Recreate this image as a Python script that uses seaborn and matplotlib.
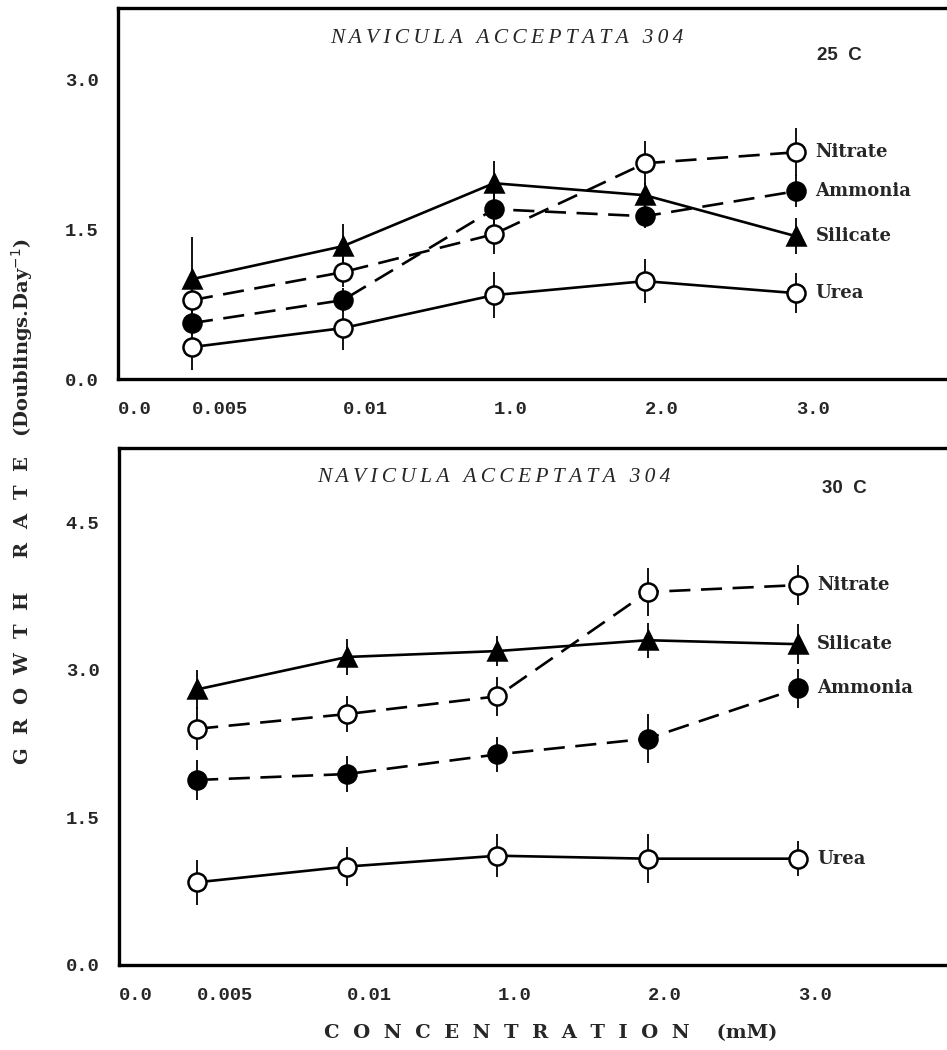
import matplotlib
matplotlib.use("Agg")
import matplotlib.pyplot as plt
import matplotlib.transforms as mtransforms
import seaborn as sns
import pandas as pd

# --- data ---
conc_labels = ["0.005", "0.01", "1.0", "2.0", "3.0"]
series_names = ["Nitrate", "Ammonia", "Silicate", "Urea"]

# 25 C panel
nitrate_25 = [0.79, 1.07, 1.45, 2.16, 2.27]
ammonia_25 = [0.56, 0.79, 1.70, 1.63, 1.88]
silicate_25 = [1.00, 1.33, 1.96, 1.84, 1.43]
urea_25 = [0.32, 0.51, 0.84, 0.98, 0.86]
nitrate_25_err = [0.15, 0.15, 0.20, 0.22, 0.24]
ammonia_25_err = [0.12, 0.12, 0.15, 0.12, 0.16]
silicate_25_err = [0.42, 0.22, 0.22, 0.12, 0.18]
urea_25_err = [0.23, 0.22, 0.23, 0.22, 0.20]

# 30 C panel
nitrate_30 = [2.40, 2.55, 2.73, 3.79, 3.86]
ammonia_30 = [1.88, 1.94, 2.14, 2.30, 2.81]
silicate_30 = [2.80, 3.13, 3.19, 3.30, 3.26]
urea_30 = [0.84, 1.00, 1.11, 1.08, 1.08]
nitrate_30_err = [0.22, 0.18, 0.20, 0.24, 0.20]
ammonia_30_err = [0.20, 0.18, 0.18, 0.25, 0.20]
silicate_30_err = [0.20, 0.18, 0.15, 0.18, 0.20]
urea_30_err = [0.23, 0.20, 0.22, 0.25, 0.18]

sns.set_style("white")
plt.rcParams["font.family"] = ["DejaVu Sans"]

styles = {
    "Nitrate": dict(marker="o", mfc="white", dashed=True),
    "Ammonia": dict(marker="o", mfc="black", dashed=True),
    "Silicate": dict(marker="^", mfc="black", dashed=False),
    "Urea": dict(marker="o", mfc="white", dashed=False),
}

tick_font = dict(family="Liberation Mono", weight="bold", size=13.5)
label_font = dict(family="DejaVu Serif", weight="bold", size=13)
title = "\u2009".join("NAVICULA ACCEPTATA 304")


def draw_panel(ax, data, errs, temp, ymax, yticks, xleft, title_xy, temp_xy):
    pos = list(range(len(conc_labels)))
    for name in series_names:
        st = styles[name]
        df = pd.DataFrame({"x": pos, "y": data[name]})
        ax.errorbar(pos, data[name], yerr=errs[name], fmt="none",
                    ecolor="black", elinewidth=1.3, capsize=0, zorder=2)
        sns.lineplot(data=df, x="x", y="y", ax=ax, color="black",
                     linewidth=1.9, marker=st["marker"], markersize=13,
                     markerfacecolor=st["mfc"], markeredgecolor="black",
                     markeredgewidth=1.8, zorder=3)
        if st["dashed"]:
            ax.lines[-1].set_dashes([8, 4])
        ax.text(4.13, data[name][-1], name, ha="left", va="center",
                fontdict=label_font)

    ax.set_xlim(xleft, 5.03)
    ax.set_ylim(0, ymax)
    ax.set_xticks([xleft] + pos)
    ax.set_xticklabels(["0.0"] + conc_labels, fontdict=tick_font, ha="left")
    shift = mtransforms.ScaledTranslation(-6 / 100, 0, ax.figure.dpi_scale_trans)
    for lab in ax.get_xticklabels():
        lab.set_transform(lab.get_transform() + shift)
    ax.xaxis.get_major_ticks()[0].tick1line.set_visible(False)
    ax.set_yticks(yticks)
    ax.set_yticklabels(["%.1f" % v for v in yticks], fontdict=tick_font)
    ax.tick_params(axis="x", direction="in", length=13, width=2, pad=16)
    ax.tick_params(axis="y", direction="in", length=16, width=2.5, pad=14)
    ax.set_xlabel("")
    ax.set_ylabel("")
    for side in ["left", "bottom", "top"]:
        ax.spines[side].set_linewidth(2.4)
        ax.spines[side].set_color("black")
    ax.spines["right"].set_visible(False)
    ax.text(title_xy[0], title_xy[1], title,
            transform=ax.transAxes, ha="center", va="center",
            family=["Liberation Serif", "DejaVu Serif"], style="italic",
            size=15.5)
    ax.text(temp_xy[0], temp_xy[1], temp, transform=ax.transAxes,
            ha="center", va="center", family="Liberation Sans",
            weight="bold", size=13.5)


fig = plt.figure(figsize=(9.47, 10.5), dpi=100)
ax1 = fig.add_axes([0.1246, 0.639, 0.88, 0.353])
ax2 = fig.add_axes([0.1257, 0.081, 0.88, 0.492])

draw_panel(ax1,
           {"Nitrate": nitrate_25, "Ammonia": ammonia_25,
            "Silicate": silicate_25, "Urea": urea_25},
           {"Nitrate": nitrate_25_err, "Ammonia": ammonia_25_err,
            "Silicate": silicate_25_err, "Urea": urea_25_err},
           "25  C", 3.71, [0.0, 1.5, 3.0], -0.49, (0.467, 0.92), (0.866, 0.873))
draw_panel(ax2,
           {"Nitrate": nitrate_30, "Ammonia": ammonia_30,
            "Silicate": silicate_30, "Urea": urea_30},
           {"Nitrate": nitrate_30_err, "Ammonia": ammonia_30_err,
            "Silicate": silicate_30_err, "Urea": urea_30_err},
           "30  C", 5.25, [0.0, 1.5, 3.0, 4.5], -0.52, (0.45, 0.944), (0.87, 0.923))

fig.text(0.023, 0.522,
         "G  R  O  W  T  H     R  A  T  E   (Doublings.Day$^{-1}$)",
         rotation=90, ha="center", va="center", family="DejaVu Serif",
         weight="bold", size=14)
fig.text(0.582, 0.016, "C  O  N  C  E  N  T  R  A  T  I  O  N    (mM)",
         ha="center", va="center", family="DejaVu Serif", weight="bold",
         size=14)

fig.savefig("out.png", dpi=100)
